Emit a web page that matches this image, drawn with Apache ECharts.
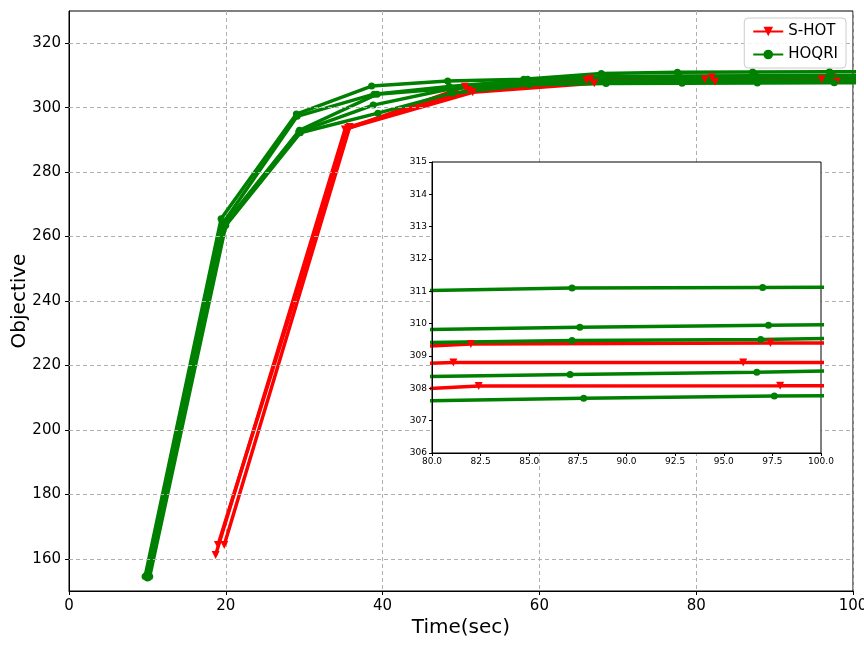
<!DOCTYPE html>
<html>
<head>
<meta charset="utf-8">
<script src="https://cdn.jsdelivr.net/npm/echarts@6/dist/echarts.min.js"></script>
<style>
  html, body { margin: 0; padding: 0; background: #fff; }
  #main { width: 864px; height: 648px; }
</style>
</head>
<body>
<div id="main"></div>
<script>
// S-HOT runs (time in sec, objective)
var shot1Time = [19.8, 35.8, 51.0, 66.5, 82.0, 97.4, 112.8];
var shot1Obj  = [164.3, 294.0, 305.5, 308.9, 309.37, 309.4, 309.42];
var shot2Time = [18.7, 35.2, 50.5, 66.0, 81.1, 96.0, 111.0];
var shot2Obj  = [161.2, 293.2, 306.5, 308.5, 308.8, 308.8, 308.8];
var shot3Time = [19.0, 35.6, 51.5, 67.0, 82.4, 97.9, 113.0];
var shot3Obj  = [164.3, 293.7, 304.8, 307.6, 308.07, 308.08, 308.1];

// HOQRI runs
var hoqri1Time = [9.7, 19.4, 29.0, 38.6, 48.3, 58.0, 67.9, 77.6, 87.2, 97.0, 106.8];
var hoqri1Obj  = [154.5, 265.5, 298.0, 306.7, 308.3, 308.8, 310.6, 311.0, 311.1, 311.12, 311.15];
var hoqri2Time = [9.9, 19.6, 29.1, 38.9, 48.5, 58.3, 68.0, 77.8, 87.6, 97.3, 107.0];
var hoqri2Obj  = [155.0, 264.0, 297.3, 304.2, 306.6, 308.5, 309.6, 309.8, 309.89, 309.95, 310.0];
var hoqri3Time = [10.0, 19.7, 29.4, 39.3, 48.8, 58.5, 68.2, 77.6, 87.2, 96.9, 106.6];
var hoqri3Obj  = [154.0, 263.5, 293.0, 304.2, 306.0, 308.8, 309.3, 309.4, 309.48, 309.51, 309.6];
var hoqri4Time = [10.1, 19.8, 29.3, 38.8, 48.5, 58.4, 68.3, 77.9, 87.1, 96.7, 106.4];
var hoqri4Obj  = [154.2, 263.0, 292.5, 300.8, 305.8, 307.6, 308.2, 308.35, 308.43, 308.5, 308.6];
var hoqri5Time = [10.3, 20.0, 29.5, 39.4, 48.9, 58.7, 68.5, 78.2, 87.8, 97.6, 107.3];
var hoqri5Obj  = [154.5, 263.5, 292.2, 298.3, 304.5, 307.1, 307.5, 307.6, 307.69, 307.76, 307.8];

// tick labels
var mainYTicks = [160, 180, 200, 220, 240, 260, 280, 300, 320];

var RED = '#ff0000';
var GREEN = '#008000';

var shotRuns = [[shot1Time, shot1Obj], [shot2Time, shot2Obj], [shot3Time, shot3Obj]];
var hoqriRuns = [[hoqri1Time, hoqri1Obj], [hoqri2Time, hoqri2Obj], [hoqri3Time, hoqri3Obj],
                 [hoqri4Time, hoqri4Obj], [hoqri5Time, hoqri5Obj]];

function makeLine(name, run, color, isShot, axisIdx, z) {
    return {
        name: name,
        type: 'line',
        xAxisIndex: axisIdx,
        yAxisIndex: axisIdx,
        data: run[0].map(function (t, i) { return [t, run[1][i]]; }),
        symbol: isShot ? 'triangle' : 'circle',
        symbolRotate: isShot ? 180 : 0,
        symbolSize: isShot ? 8 : 7,
        showAllSymbol: true,
        clip: true,
        z: z,
        lineStyle: { width: 3.5, color: color },
        itemStyle: { color: color },
        emphasis: { disabled: true },
        animation: false
    };
}

var series = [];
// horizontal grid lines of the main plot
series.push({
    type: 'line',
    data: [[0, 150]],
    symbol: 'none',
    lineStyle: { opacity: 0 },
    z: 0,
    silent: true,
    markLine: {
        silent: true,
        symbol: 'none',
        label: { show: false },
        animation: false,
        lineStyle: { type: [4, 3], color: '#b0b0b0', width: 1 },
        data: mainYTicks.map(function (v) { return { yAxis: v }; })
    }
});
[0, 1].forEach(function (ax) {
    var z = ax === 0 ? 2 : 12;
    shotRuns.forEach(function (r) { series.push(makeLine('S-HOT', r, RED, true, ax, z)); });
    hoqriRuns.forEach(function (r) { series.push(makeLine('HOQRI', r, GREEN, false, ax, z)); });
});

var chartDom = document.getElementById('main');
var myChart = echarts.init(chartDom);

var option = {
    animation: false,
    backgroundColor: '#fff',
    textStyle: { fontFamily: 'DejaVu Sans' },
    legend: {
        data: ['S-HOT', 'HOQRI'],
        orient: 'vertical',
        right: 18,
        top: 18,
        itemWidth: 30,
        itemHeight: 12,
        itemGap: 8,
        padding: [6, 8, 6, 8],
        borderColor: '#cccccc',
        borderWidth: 1,
        borderRadius: 4,
        backgroundColor: 'rgba(255,255,255,0.85)',
        textStyle: { fontSize: 15, color: '#000', fontFamily: 'DejaVu Sans' },
        z: 20
    },
    grid: [
        { left: 69, right: 11, top: 11, bottom: 57, show: true, borderColor: '#000', borderWidth: 1,
          containLabel: false, outerBoundsMode: 'none', z: 0 },
        { left: 432, width: 389, top: 162, height: 291, show: true, backgroundColor: '#fff',
          borderColor: '#000', borderWidth: 1, containLabel: false, outerBoundsMode: 'none', z: 10 }
    ],
    xAxis: [
        {
            gridIndex: 0, type: 'value', min: 0, max: 100, interval: 20,
            name: 'Time(sec)', nameLocation: 'middle', nameGap: 27, nameMoveOverlap: false,
            nameTextStyle: { fontSize: 20, color: '#000', fontFamily: 'DejaVu Sans' },
            axisLine: { lineStyle: { color: '#000' } },
            axisTick: { show: true, length: 4, lineStyle: { color: '#000' } },
            axisLabel: { fontSize: 15, color: '#000', margin: 8 },
            splitLine: { show: true, lineStyle: { type: [4, 3], color: '#b0b0b0' } }
        },
        {
            gridIndex: 1, type: 'value', min: 80, max: 100, interval: 2.5, z: 13,
            axisLine: { lineStyle: { color: '#000' } },
            axisTick: { show: true, length: 3, lineStyle: { color: '#000' } },
            axisLabel: { fontSize: 9, color: '#000', margin: 4,
                         formatter: function (v) { return v.toFixed(1); } },
            splitLine: { show: false }
        }
    ],
    yAxis: [
        {
            gridIndex: 0, type: 'value', min: 150, max: 330,
            name: 'Objective', nameLocation: 'middle', nameGap: 39, nameRotate: 90,
            nameMoveOverlap: false,
            nameTextStyle: { fontSize: 20, color: '#000', fontFamily: 'DejaVu Sans' },
            axisLine: { show: true, lineStyle: { color: '#000' } },
            axisTick: { show: true, length: 4, lineStyle: { color: '#000' }, customValues: mainYTicks },
            axisLabel: { fontSize: 15, color: '#000', margin: 8, customValues: mainYTicks },
            splitLine: { show: false }
        },
        {
            gridIndex: 1, type: 'value', min: 306, max: 315, interval: 1, z: 13,
            axisLine: { show: true, lineStyle: { color: '#000' } },
            axisTick: { show: true, length: 3, lineStyle: { color: '#000' } },
            axisLabel: { fontSize: 9, color: '#000', margin: 5 },
            splitLine: { show: false }
        }
    ],
    series: series
};

option && myChart.setOption(option);
</script>
</body>
</html>
